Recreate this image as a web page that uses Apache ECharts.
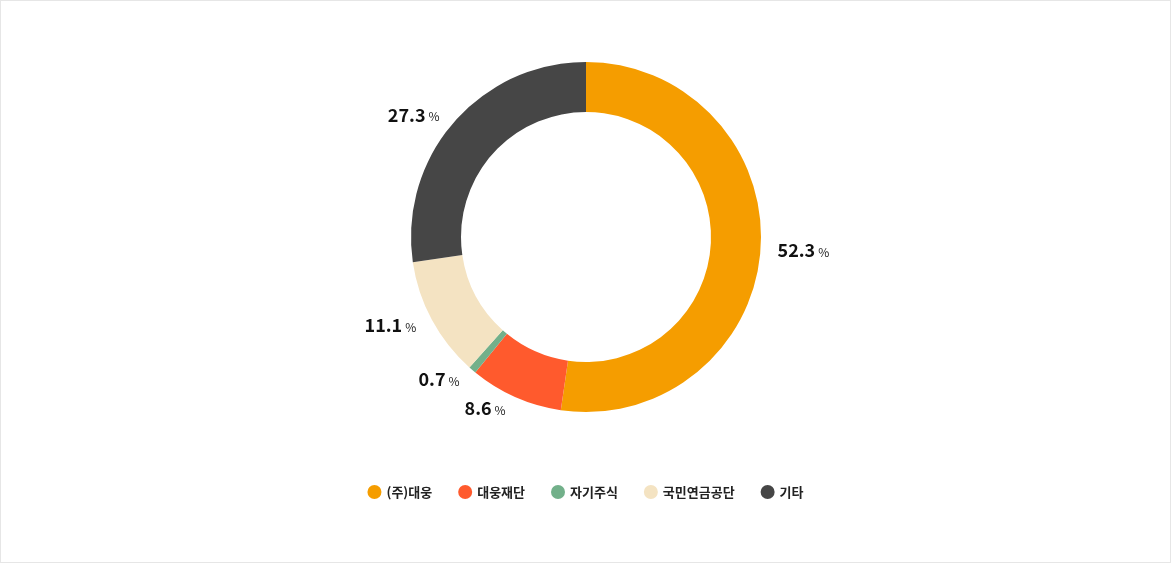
<!DOCTYPE html>
<html><head><meta charset="utf-8">
<script src="https://cdn.jsdelivr.net/npm/echarts@6/dist/echarts.min.js"></script>
<style>html,body{margin:0;padding:0;background:#fff}#c{width:1169px;height:561px;border:1px solid #e6e6e6}</style>
</head><body><div id="c"></div>
<script>
const categories=['(주)대웅','대웅재단','자기주식','국민연금공단','기타'];
const values=[52.3,8.6,0.7,11.1,27.3];
const colors=['#f59d00','#ff5a2d','#72b08a','#f4e3c2','#464646'];
const chart=echarts.init(document.getElementById('c'));
chart.setOption({
 legend:{bottom:58,left:'center',icon:'circle',itemWidth:14,itemHeight:14,itemGap:26,
  textStyle:{fontFamily:'Noto Sans CJK KR',fontSize:13,fontWeight:'bold',color:'#222'},data:categories},
 series:[{type:'pie',center:[585,236],radius:[125,175],startAngle:90,clockwise:true,
  label:{show:true,position:'outside',distance:14,
   formatter:p=>'{v|'+p.value+'}{p|%}',
   rich:{v:{fontFamily:'Noto Sans CJK KR',fontSize:18,fontWeight:'bold',color:'#111'},
         p:{fontFamily:'Noto Sans CJK KR',fontSize:12,color:'#222',padding:[4,0,0,3]}}},
  labelLine:{show:false,length:12,length2:0},
  emphasis:{disabled:true},
  data:categories.map((n,i)=>({name:n,value:values[i],itemStyle:{color:colors[i]}}))}]
});
</script></body></html>
